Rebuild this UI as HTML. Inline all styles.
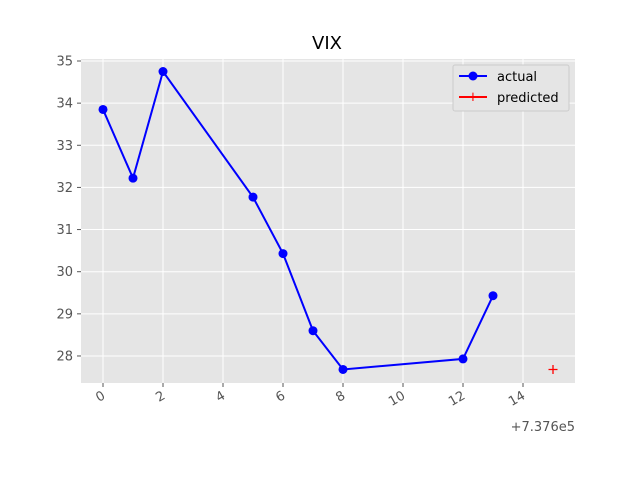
<!DOCTYPE html>
<html><head><meta charset="utf-8"><style>
body{margin:0;background:#fff;width:640px;height:480px;overflow:hidden}
svg{font-family:"DejaVu Sans","Liberation Sans",sans-serif}
</style></head><body>
<svg id="chart" width="640" height="480">
<text x="327" y="49" font-size="18" text-anchor="middle">VIX</text>
<rect x="81" y="59" width="494" height="324" fill="#e5e5e5"/>
<g id="grid"></g><g id="ticks"></g><g id="series"></g>
<text x="575" y="431" font-size="13" fill="#555" text-anchor="end">+7.376e5</text>
<g>
<rect x="453" y="65" width="116" height="46" fill="#e5e5e5" stroke="#ccc" rx="2"/>
<g><line x1="459" y1="76" x2="487" y2="76" stroke="#0000ff" stroke-width="2"/><circle cx="473" cy="76" r="4.5" fill="#0000ff"/><text x="497" y="81" font-size="13">actual</text></g>
<g><line x1="459" y1="97" x2="487" y2="97" stroke="#ff0000" stroke-width="2"/><text x="473" y="101" font-size="13" fill="#ff0000" text-anchor="middle">+</text><text x="497" y="102" font-size="13">predicted</text></g>
</g>
</svg>
<script>
const actualX=[0,1,2,5,6,7,8,12,13];
const actualY=[33.85,32.22,34.75,31.77,30.43,28.6,27.68,27.93,29.43];
const predX=[15];
const predY=[27.68];
const xTicks=[0,2,4,6,8,10,12,14];
const yTicks=[28,29,30,31,32,33,34,35];
const NS="http://www.w3.org/2000/svg";
const X=v=>103+(v-0)*30, Y=v=>61+(35-v)*42.14;
function mk(tag,attrs,parent){const e=document.createElementNS(NS,tag);for(const k in attrs)e.setAttribute(k,attrs[k]);document.getElementById(parent).appendChild(e);return e;}
xTicks.forEach(t=>{
 const g=mk('line',{x1:X(t),x2:X(t),y1:59,y2:383,stroke:'#fff','stroke-width':1},'grid');
 
 
 const tk=mk('line',{x1:X(t),x2:X(t),y1:383,y2:387,stroke:'#555'},'ticks');
 
 
 const tx=mk('text',{x:X(t)+3,y:398,'font-size':13,fill:'#555','text-anchor':'end',transform:`rotate(-30 ${X(t)+3} 398)`},'ticks');
 tx.textContent=t;
 
 
});
yTicks.forEach(t=>{
 const g=mk('line',{x1:81,x2:575,y1:Y(t),y2:Y(t),stroke:'#fff','stroke-width':1},'grid');
 
 
 const tk=mk('line',{x1:77,x2:81,y1:Y(t),y2:Y(t),stroke:'#555'},'ticks');
 
 
 const tx=mk('text',{x:73,y:Y(t)+4.5,'font-size':13,fill:'#555','text-anchor':'end'},'ticks');
 tx.textContent=t;
 
 
});
const pl=mk('polyline',{points:actualX.map((x,i)=>X(x)+','+Y(actualY[i])).join(' '),fill:'none',stroke:'#0000ff','stroke-width':2},'series');


actualX.forEach((x,i)=>{
 const c=mk('circle',{cx:X(x),cy:Y(actualY[i]),r:4.5,fill:'#0000ff'},'series');
 
 
});
predX.forEach((x,i)=>{
 const p=mk('path',{d:`M${X(x)-4.5},${Y(predY[i])}h9M${X(x)},${Y(predY[i])-4.5}v9`,stroke:'#ff0000','stroke-width':1.3},'series');
 
 
});
</script>
</body></html>
